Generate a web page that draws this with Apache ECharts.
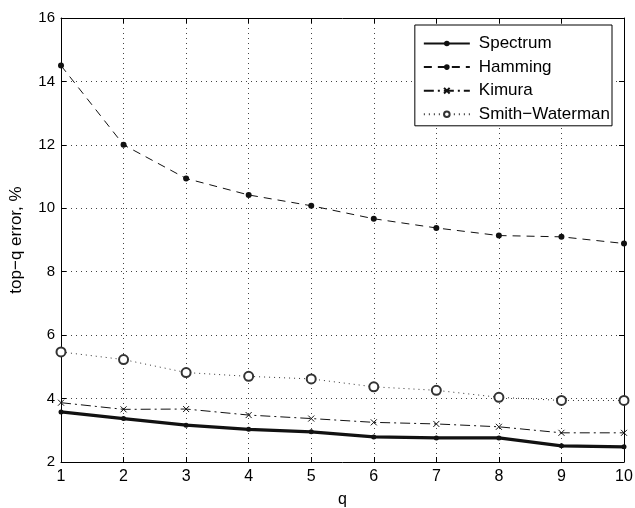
<!DOCTYPE html>
<html><head><meta charset="utf-8">
<script src="https://cdn.jsdelivr.net/npm/echarts@6/dist/echarts.min.js"></script>
<style>html,body{margin:0;padding:0;background:#fff}#c{width:635px;height:508px}</style>
</head><body><div id="c"></div>
<script>
const qValues = [1,2,3,4,5,6,7,8,9,10];
const spectrum = [3.58,3.37,3.16,3.03,2.95,2.79,2.76,2.76,2.51,2.48];
const hamming = [14.5,12.0,10.94,10.42,10.08,9.67,9.38,9.14,9.10,8.89];
const kimura = [3.87,3.66,3.67,3.48,3.37,3.25,3.2,3.11,2.92,2.92];
const smithWaterman = [5.47,5.23,4.82,4.70,4.62,4.37,4.26,4.04,3.94,3.94];
const seriesNames = ['Spectrum','Hamming','Kimura','Smith\u2212Waterman'];

const pair = arr => arr.map((v,i)=>[qValues[i], v]);
const font = 'Liberation Sans, Arial, Helvetica, sans-serif';
const chart = echarts.init(document.getElementById('c'));
const xMark = 'path://M0,0L10,10M10,0L0,10';
chart.setOption({
  animation:false,
  backgroundColor:'#fff',
  textStyle:{fontFamily:font},
  grid:{left:61,right:11,top:18,bottom:46,outerBoundsMode:'none',containLabel:false},
  legend:{
    right:23, top:25, orient:'vertical',
    backgroundColor:'#fff', borderColor:'#000', borderWidth:1,
    padding:[10,2,3,8], itemGap:6.6, itemWidth:46, itemHeight:7,
    textStyle:{fontSize:17,color:'#000',fontFamily:font,lineHeight:17,padding:[0,0,0,4]},
    data:seriesNames
  },
  xAxis:[{
    type:'value', min:1, max:10, interval:1,
    name:'q', nameLocation:'middle', nameGap:30,
    nameTextStyle:{fontSize:16,color:'#000'},
    axisLine:{lineStyle:{color:'#000',width:1}},
    axisTick:{inside:true,length:5,lineStyle:{color:'#000'}},
    axisLabel:{fontSize:16,color:'#000',margin:7},
    splitLine:{show:true,lineStyle:{color:'#444',type:[1,4],width:1}}
  },{
    type:'value', min:1, max:10, interval:1, position:'top',
    axisLine:{show:true,lineStyle:{color:'#000'}},
    axisTick:{inside:true,length:5,lineStyle:{color:'#000'}},
    axisLabel:{show:false}, splitLine:{show:false}
  }],
  yAxis:[{
    type:'value', min:2, max:16, interval:2,
    name:'top\u2212q error, %', nameLocation:'middle', nameGap:36,
    nameTextStyle:{fontSize:17,color:'#000'},
    axisLine:{show:true,lineStyle:{color:'#000',width:1}},
    axisTick:{show:true,inside:true,length:5,lineStyle:{color:'#000'}},
    axisLabel:{fontSize:15,color:'#000',margin:6},
    splitLine:{show:true,lineStyle:{color:'#444',type:[1,4],width:1}}
  },{
    type:'value', min:2, max:16, interval:2, position:'right',
    axisLine:{show:true,lineStyle:{color:'#000'}},
    axisTick:{show:true,inside:true,length:5,lineStyle:{color:'#000'}},
    axisLabel:{show:false}, splitLine:{show:false}
  }],
  series:[
    {name:seriesNames[0], type:'line', data:pair(spectrum), symbol:'circle', symbolSize:5,
     lineStyle:{color:'#111',width:3.2}, itemStyle:{color:'#111'}, z:5},
    {name:seriesNames[1], type:'line', data:pair(hamming), symbol:'circle', symbolSize:6,
     lineStyle:{color:'#111',width:1,type:[8,6]}, itemStyle:{color:'#111'}},
    {name:seriesNames[2], type:'line', data:pair(kimura), symbol:xMark, symbolSize:6,
     lineStyle:{color:'#111',width:1,type:[10,4,2,4]}, itemStyle:{color:'#111',borderColor:'#111',borderWidth:1}},
    {name:seriesNames[3], type:'line', data:pair(smithWaterman), symbol:'emptyCircle', symbolSize:9,
     lineStyle:{color:'#333',width:1,type:[1,4]}, itemStyle:{color:'#333',borderColor:'#333',borderWidth:0.8}}
  ]
});
</script></body></html>
